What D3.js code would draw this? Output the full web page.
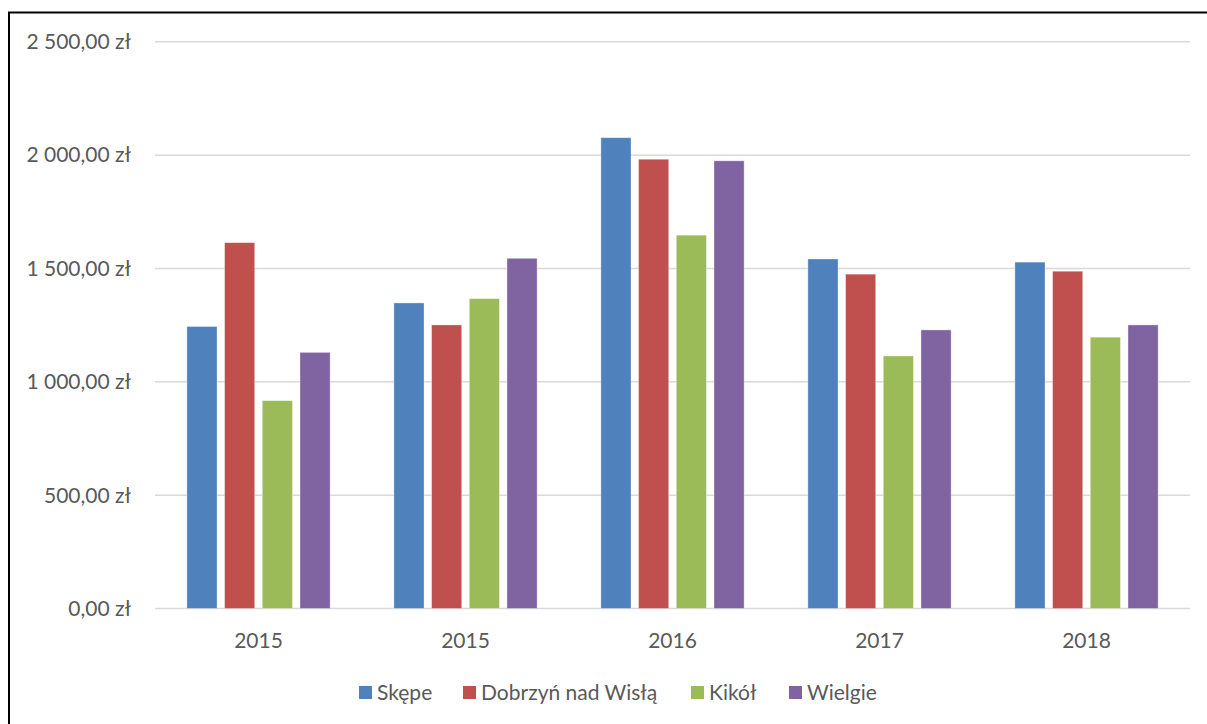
<!DOCTYPE html>
<html><head><meta charset="utf-8">
<script src="https://cdn.jsdelivr.net/npm/d3@7"></script>
<style>body{margin:0;background:#fff}svg{display:block}</style>
</head><body>
<script>
const categories = ["2015", "2015 ", "2016", "2017", "2018"];
const categoryLabels = ["2015", "2015", "2016", "2017", "2018"];
const seriesNames = ["Skępe", "Dobrzyń nad Wisłą", "Kikół", "Wielgie"];
const skepe   = [1244, 1348, 2077, 1542, 1528];
const dobrzyn = [1614, 1251, 1982, 1475, 1488];
const kikol   = [917, 1367, 1647, 1114, 1197];
const wielgie = [1130, 1545, 1975, 1229, 1251];
const seriesValues = [skepe, dobrzyn, kikol, wielgie];
const colors = ["#4F81BD", "#C0504D", "#9BBB59", "#8064A2"];
const yTicks = [0, 500, 1000, 1500, 2000, 2500];

const W = 1207, H = 724;
const font = "Lato, 'Open Sans', sans-serif";
const fs = "21px";
const svg = d3.select("body").append("svg").attr("width", W).attr("height", H);

svg.append("rect").attr("x", 9).attr("y", 12.5).attr("width", 1400).attr("height", 900)
  .attr("fill", "none").attr("stroke", "#000").attr("stroke-width", 2);

const x0 = d3.scaleBand().domain(categories).range([155, 1190]).padding(0);
const y = d3.scaleLinear().domain([0, 2500]).range([608.5, 41.8]);

const fmt = v => {
  const s = v.toFixed(2).replace(".", ",");
  const [i, d] = s.split(",");
  return i.replace(/\B(?=(\d{3})+(?!\d))/g, " ") + "," + d + " zł";
};

svg.append("g").selectAll("line").data(yTicks).join("line")
  .attr("x1", 155).attr("x2", 1190)
  .attr("y1", d => y(d)).attr("y2", d => y(d))
  .attr("stroke", "#d9d9d9").attr("stroke-width", 1.5);

svg.append("g").selectAll("text").data(yTicks).join("text")
  .attr("x", 131).attr("y", d => y(d)).attr("dy", "0.35em")
  .attr("text-anchor", "end").attr("fill", "#595959")
  .style("font-family", font).style("font-size", fs)
  .text(d => fmt(d));

const groupW = 150.8;
const x1 = d3.scaleBand().domain(seriesNames).range([0, groupW]).paddingInner(0.2).paddingOuter(0.1);
const g = svg.append("g");
categories.forEach((c, ci) => {
  const cx = x0(c) + x0.bandwidth() / 2 - groupW / 2;
  seriesNames.forEach((s, si) => {
    const v = seriesValues[si][ci];
    g.append("rect")
      .attr("x", cx + x1(s)).attr("width", x1.bandwidth())
      .attr("y", y(v)).attr("height", y(0) - y(v))
      .attr("fill", colors[si])
      .attr("stroke", "rgba(255,255,255,0.45)").attr("stroke-width", 0.8);
  });
});

svg.append("g").selectAll("text").data(categories).join("text")
  .attr("x", d => x0(d) + x0.bandwidth() / 2).attr("y", 648)
  .attr("text-anchor", "middle").attr("fill", "#595959")
  .style("font-family", font).style("font-size", fs)
  .text((d, i) => categoryLabels[i]);

const legendX = [359, 463, 691, 789];
const lg = svg.append("g");
seriesNames.forEach((s, i) => {
  lg.append("rect").attr("x", legendX[i]).attr("y", 686).attr("width", 13).attr("height", 13)
    .attr("fill", colors[i]);
  lg.append("text").attr("x", legendX[i] + 18).attr("y", 692.5).attr("dy", "0.35em")
    .attr("fill", "#595959").style("font-family", font).style("font-size", fs).text(s);
});
</script>
</body></html>
